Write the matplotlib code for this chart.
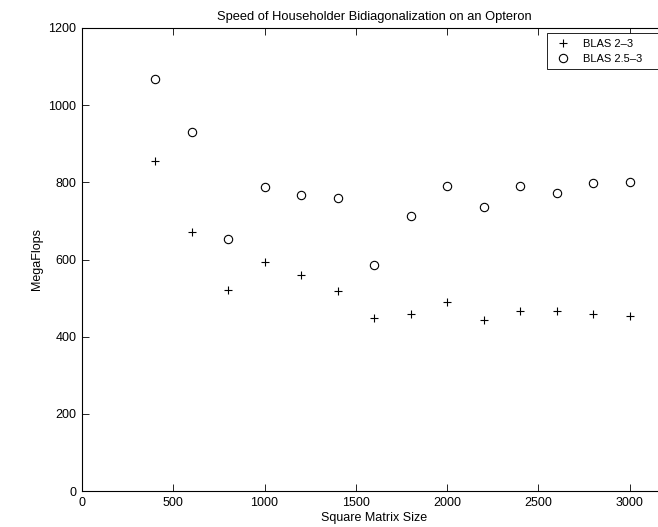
import matplotlib.pyplot as plt

plt.rcParams['font.family'] = ['Liberation Sans', 'DejaVu Sans']

sizes = [400, 600, 800, 1000, 1200, 1400, 1600, 1800, 2000, 2200, 2400, 2600, 2800, 3000]
blas_2_3 = [854, 670, 520, 594, 560, 518, 448, 458, 490, 444, 466, 466, 459, 454]
blas_25_3 = [1067, 930, 654, 787, 768, 760, 586, 713, 790, 736, 790, 772, 797, 801]

xticks = [0, 500, 1000, 1500, 2000, 2500, 3000]
yticks = [0, 200, 400, 600, 800, 1000, 1200]

fig = plt.figure(figsize=(6.58, 5.27), dpi=100)
# axes run past the right edge, as in the cropped original
ax = fig.add_axes([82 / 658, 36 / 527, 584 / 658, 463 / 527])

ax.plot(sizes, blas_2_3, linestyle='none', marker='+', color='black',
        markersize=6, markeredgewidth=0.8, label='BLAS 2\u20133')
ax.plot(sizes, blas_25_3, linestyle='none', marker='o', color='black',
        markerfacecolor='none', markersize=6, markeredgewidth=0.8, label='BLAS 2.5\u20133')

ax.set_xlim(0, 3200)
ax.set_ylim(0, 1200)
ax.set_xticks(xticks)
ax.set_yticks(yticks)
ax.tick_params(direction='in', top=True, right=True, length=5, width=0.6,
               labelsize=9, pad=4)
for s in ax.spines.values():
    s.set_linewidth(0.8)

ax.set_title('Speed of Householder Bidiagonalization on an Opteron', fontsize=9.3, pad=6)
ax.set_xlabel('Square Matrix Size', fontsize=9)
ax.set_ylabel('MegaFlops', fontsize=9)
ax.xaxis.set_label_coords(0.5, -0.045)
ax.yaxis.set_label_coords(-0.066, 0.5)

# legend box runs off the right edge too
leg = ax.legend(loc='upper left', bbox_to_anchor=(0.796, 0.0, 0.2, 0.989),
                mode='expand', fontsize=8,
                frameon=True, fancybox=False, framealpha=1, edgecolor='black',
                borderaxespad=0, handlelength=1.9, handletextpad=0.85,
                borderpad=0.5, labelspacing=0.45, numpoints=1)
leg.get_frame().set_linewidth(0.6)

fig.savefig('out.png', dpi=100)
